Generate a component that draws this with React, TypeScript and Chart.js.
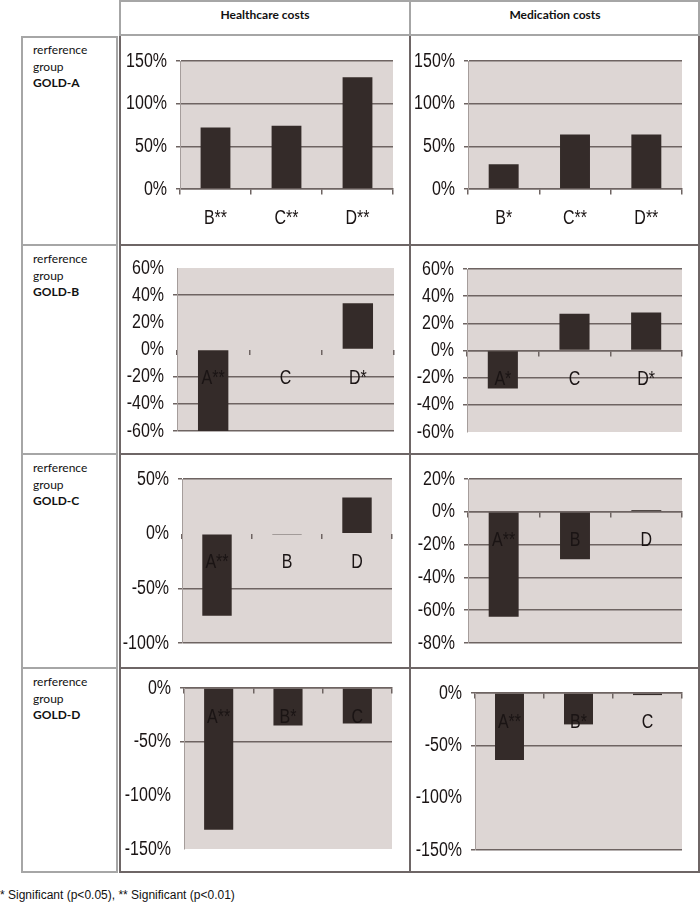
import React, { useEffect, useRef } from "react";
import { Chart, registerables } from "chart.js";

Chart.register(...registerables);

// ---------- data ----------
const columnTitles = ["Healthcare costs", "Medication costs"];
const referenceGroups = ["GOLD-A", "GOLD-B", "GOLD-C", "GOLD-D"];
const rowLabelLines = ["rerference", "group"];

const healthcareCategories = [
  ["B**", "C**", "D**"],
  ["A**", "C", "D*"],
  ["A**", "B", "D"],
  ["A**", "B*", "C"],
];
const healthcareValues = [
  [72, 74, 131],
  [-62, 0, 34],
  [-75, -1, 33],
  [-132, -35, -33],
];
const medicationCategories = [
  ["B*", "C**", "D**"],
  ["A*", "C", "D*"],
  ["A**", "B", "D"],
  ["A**", "B*", "C"],
];
const medicationValues = [
  [29, 64, 64],
  [-28, 27, 28],
  [-64, -29, 1],
  [-64, -30, -2],
];
// [min, max, step] of the percentage axis
const healthcareAxis = [
  [0, 150, 50],
  [-60, 60, 20],
  [-100, 50, 50],
  [-150, 0, 50],
];
const medicationAxis = [
  [0, 150, 50],
  [-60, 60, 20],
  [-80, 20, 20],
  [-150, 0, 50],
];
const footnote = "* Significant (p<0.05), ** Significant (p<0.01)";

// ---------- layout / style ----------
const ROWS = [
  [36, 245],
  [245, 454],
  [454, 668],
  [668, 873],
];
const COLS = [
  [120, 410],
  [410, 700],
];
// plot area [left, top, right, bottom] per column, per row
const PLOTS = [
  [
    [180, 61, 393, 189],
    [177, 268, 394, 431],
    [182, 479, 392, 643],
    [184, 688, 392, 849],
  ],
  [
    [468, 61, 682, 189],
    [467, 269, 682, 432],
    [468, 479, 682, 643],
    [475, 693, 682, 850],
  ],
];
// grid lines that are not visible in the reference
const HIDDEN_GRID = [
  [[], [60, 20, 0], [0], [-100, -150]],
  [[], [-60], [], [-100]],
];

const BAR = "#342b29";
const PLOT_BG = "#ddd6d4";
const GRID = "#6e6462";
const TEXT = "#1a1414";
const AXIS_LIGHT = "#a59d9b";
const CELL_BORDER = "#6e6666";
const LIGHT_BORDER = "#a6a6a6";
const TICK_FONT = "20px 'Liberation Sans', Arial, sans-serif";
const SQUEEZE = 0.8;

const plotBackground = {
  id: "plotBackground",
  beforeDraw(chart: any) {
    const { ctx, chartArea } = chart;
    ctx.save();
    ctx.fillStyle = PLOT_BG;
    ctx.fillRect(
      chartArea.left,
      chartArea.top,
      chartArea.right - chartArea.left,
      chartArea.bottom - chartArea.top
    );
    ctx.restore();
  },
};

// narrow (condensed) tick labels, placed with the chart's own scales
const narrowTickLabels = {
  id: "narrowTickLabels",
  afterDraw(chart: any) {
    const { ctx, chartArea, scales } = chart;
    const xs = scales.x;
    const ys = scales.y;
    ctx.save();
    ctx.fillStyle = TEXT;
    ctx.font = TICK_FONT;
    ctx.textBaseline = "middle";
    ys.ticks.forEach((t: any, i: number) => {
      const y = ys.getPixelForTick(i);
      ctx.save();
      ctx.translate(chartArea.left - 13, y);
      ctx.scale(SQUEEZE, 1);
      ctx.textAlign = "right";
      ctx.fillText(t.value + "%", 0, 0);
      ctx.restore();
    });
    const yLab = ys.getPixelForValue(0) + 29;
    xs.ticks.forEach((t: any, i: number) => {
      const x = xs.getPixelForTick(i);
      ctx.save();
      ctx.translate(x, yLab);
      ctx.scale(SQUEEZE, 1);
      ctx.textAlign = "center";
      ctx.fillText(xs.getLabelForValue(t.value), 0, 0);
      ctx.restore();
    });
    ctx.restore();
  },
};

type CellProps = {
  labels: string[];
  values: number[];
  axis: number[];
  plot: number[];
  col: number[];
  row: number[];
  hidden: number[];
};

function BarCell({ labels, values, axis, plot, col, row, hidden }: CellProps) {
  const ref = useRef<HTMLCanvasElement>(null);
  const w = col[1] - col[0];
  const h = row[1] - row[0];
  useEffect(() => {
    const [L, T, R, B] = plot;
    const chart = new Chart(ref.current as HTMLCanvasElement, {
      type: "bar",
      data: {
        labels,
        datasets: [
          {
            data: values,
            backgroundColor: BAR,
            borderWidth: 0,
            barPercentage: 0.42,
            categoryPercentage: 1,
          },
        ],
      },
      plugins: [plotBackground, narrowTickLabels],
      options: {
        animation: false,
        responsive: false,
        maintainAspectRatio: false,
        devicePixelRatio: 1,
        layout: {
          padding: {
            left: 0,
            top: T - row[0],
            right: col[1] - R,
            bottom: row[1] - B,
          },
        },
        plugins: {
          legend: { display: false },
          tooltip: { enabled: false },
        },
        scales: {
          x: {
            type: "category",
            position: { y: 0 } as any,
            afterFit: (s: any) => {
              s.height = 0;
            },
            grid: {
              display: true,
              drawOnChartArea: false,
              drawTicks: true,
              tickLength: 5,
              color: GRID,
              lineWidth: 1.5,
              offset: true,
            },
            border: {
              display: !hidden.includes(0),
              color: GRID,
              width: 1.5,
            },
            ticks: { display: false, autoSkip: false },
          },
          y: {
            type: "linear",
            min: axis[0],
            max: axis[1],
            afterFit: (s: any) => {
              s.width = L - col[0];
            },
            ticks: {
              display: false,
              stepSize: axis[2],
            },
            grid: {
              color: (ctx: any) =>
                ctx.tick && hidden.includes(ctx.tick.value)
                  ? "rgba(0,0,0,0)"
                  : GRID,
              lineWidth: 1.5,
              tickLength: 4,
            },
            border: { display: true, color: AXIS_LIGHT, width: 1 },
          },
        },
      },
    });
    return () => chart.destroy();
  }, []);
  return (
    <canvas
      ref={ref}
      width={w}
      height={h}
      style={{
        position: "absolute",
        left: col[0],
        top: row[0],
        width: w,
        height: h,
      }}
    />
  );
}

function Line({
  x,
  y,
  w,
  h,
  c,
}: {
  x: number;
  y: number;
  w: number;
  h: number;
  c: string;
}) {
  return (
    <div
      style={{
        position: "absolute",
        left: x,
        top: y,
        width: w,
        height: h,
        background: c,
      }}
    />
  );
}

export default function App() {
  const cells: any[] = [];
  for (let r = 0; r < 4; r++) {
    cells.push(
      <BarCell
        key={"h" + r}
        labels={healthcareCategories[r]}
        values={healthcareValues[r]}
        axis={healthcareAxis[r]}
        plot={PLOTS[0][r]}
        col={COLS[0]}
        row={ROWS[r]}
        hidden={HIDDEN_GRID[0][r]}
      />
    );
    cells.push(
      <BarCell
        key={"m" + r}
        labels={medicationCategories[r]}
        values={medicationValues[r]}
        axis={medicationAxis[r]}
        plot={PLOTS[1][r]}
        col={COLS[1]}
        row={ROWS[r]}
        hidden={HIDDEN_GRID[1][r]}
      />
    );
  }

  const lines: any[] = [];
  // header
  lines.push(<Line key="ht" x={119} y={0} w={581} h={2} c={LIGHT_BORDER} />);
  lines.push(<Line key="hb" x={119} y={34} w={581} h={2} c={LIGHT_BORDER} />);
  lines.push(<Line key="hl" x={119} y={0} w={2} h={36} c={LIGHT_BORDER} />);
  lines.push(<Line key="hm" x={409} y={0} w={2} h={36} c={LIGHT_BORDER} />);
  lines.push(<Line key="hr" x={698} y={0} w={2} h={36} c={LIGHT_BORDER} />);
  // label column
  lines.push(<Line key="ll" x={21} y={36} w={2} h={837} c={LIGHT_BORDER} />);
  lines.push(<Line key="lr" x={116} y={36} w={2} h={837} c={LIGHT_BORDER} />);
  [36, 244, 453, 667, 871].forEach((y, i) =>
    lines.push(<Line key={"lh" + i} x={21} y={y} w={97} h={2} c={LIGHT_BORDER} />)
  );
  // chart cells
  [119, 409, 698].forEach((x, i) =>
    lines.push(<Line key={"cv" + i} x={x} y={36} w={2} h={837} c={CELL_BORDER} />)
  );
  [244, 453, 667, 871].forEach((y, i) =>
    lines.push(<Line key={"ch" + i} x={119} y={y} w={581} h={2} c={CELL_BORDER} />)
  );

  return (
    <div
      style={{
        position: "absolute",
        left: 0,
        top: 0,
        width: 700,
        height: 908,
        background: "#ffffff",
        overflow: "hidden",
      }}
    >
      {columnTitles.map((t, i) => (
        <div
          key={t}
          style={{
            position: "absolute",
            left: COLS[i][0],
            top: 6,
            width: COLS[i][1] - COLS[i][0],
            textAlign: "center",
            fontFamily: "Lato, 'Open Sans', sans-serif",
            fontWeight: 700,
            fontSize: 12,
            lineHeight: "18px",
            color: "#111",
          }}
        >
          {t}
        </div>
      ))}
      {referenceGroups.map((g, r) => (
        <div
          key={g}
          style={{
            position: "absolute",
            left: 33,
            top: ROWS[r][0] + 6,
            fontFamily: "Lato, 'Open Sans', sans-serif",
            fontSize: 12,
            lineHeight: "16.5px",
            color: "#111",
          }}
        >
          {rowLabelLines.map((l) => (
            <div key={l}>{l}</div>
          ))}
          <div style={{ fontWeight: 700 }}>{g}</div>
        </div>
      ))}
      {cells}
      {lines}
      <div
        style={{
          position: "absolute",
          left: 0,
          top: 887,
          fontFamily: "'Liberation Sans', Arial, sans-serif",
          fontSize: 12,
          lineHeight: "16px",
          color: "#111",
          whiteSpace: "nowrap",
        }}
      >
        {footnote}
      </div>
    </div>
  );
}
